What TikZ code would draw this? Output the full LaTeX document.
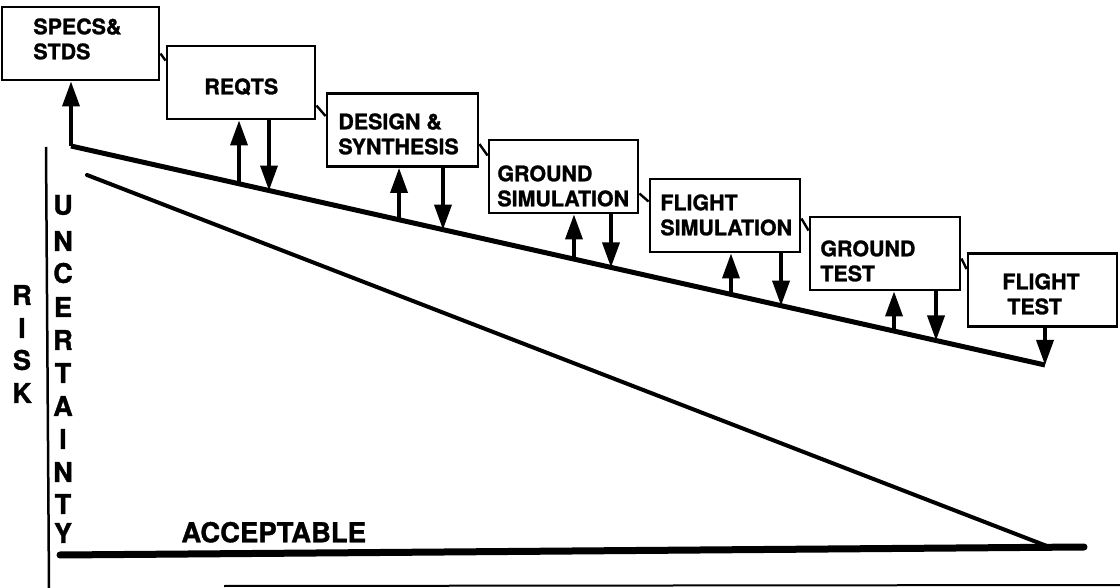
\documentclass[tikz,border=0pt]{standalone}
\usepackage{fontspec}
\setmainfont{TeX Gyre Heros}[BoldFeatures={FakeBold=1.2}]
\usetikzlibrary{arrows.meta,calc}
\begin{document}
\begin{tikzpicture}[x=0.5pt,y=-0.5pt,
  box/.style={draw,line width=1.45pt,inner sep=0pt,minimum height=36.5pt},
  lbl/.style={inner sep=0pt,align=left,anchor=north west,font=\fontsize{10.7}{12.5}\selectfont\bfseries},
  vlet/.style={inner sep=0pt,font=\fontsize{13.5}{13.5}\selectfont\bfseries},
  arr/.style={line width=1.8pt,-{Triangle[length=12.5pt,width=8.5pt]}},
  stub/.style={line width=1.2pt},
  mainline/.style={line width=2.5pt},
  lowline/.style={line width=2pt,line cap=round},
  accline/.style={line width=3.5pt,line cap=round},
  axisline/.style={line width=1.25pt},
  thinline/.style={line width=1pt}]
\useasboundingbox (0,0) rectangle (1120,588);
% boxes
\node[box,minimum width=78.5pt] (b1) at (80.5,43.5) {};
\node[box,minimum width=74pt] (b2) at (241,82.5) {};
\node[box,minimum width=75.5pt] (b3) at (402.5,130) {};
\node[box,minimum width=74.5pt] (b4) at (563.5,176.5) {};
\node[box,minimum width=75pt] (b5) at (725,215.5) {};
\node[box,minimum width=75pt] (b6) at (885,253.5) {};
\node[box,minimum width=74.5pt] (b7) at (1042.5,290) {};
% labels
\node[lbl] (t1) at (33,18) {SPECS\&\\STDS};
\node[lbl] (t2) at (204,78) {REQTS};
\node[lbl] (t3) at (338,113) {DESIGN \&\\SYNTHESIS};
\node[lbl] (t4) at (497,165) {GROUND\\SIMULATION};
\node[lbl] (t5) at (660,194) {FLIGHT\\SIMULATION};
\node[lbl] (t6) at (820,240) {GROUND\\TEST};
\node[lbl] (t7) at (1002,273) {FLIGHT\\\hspace*{2.5pt}TEST};
% stubs between boxes
\draw[stub] ([yshift=-24pt]b1.north east) -- ([yshift=-8pt]b2.north west);
\draw[stub] ([yshift=-30.5pt]b2.north east) -- ([yshift=-12pt]b3.north west);
\draw[stub] ([yshift=-26pt]b3.north east) -- ([yshift=-8.5pt]b4.north west);
\draw[stub] ([yshift=-27.5pt]b4.north east) -- ([yshift=-12pt]b5.north west);
\draw[stub] ([yshift=-20.5pt]b5.north east) -- ([yshift=-7.5pt]b6.north west);
\draw[stub] ([yshift=-21.5pt]b6.north east) -- ([yshift=-8.5pt]b7.north west);
% main (upper) line
\coordinate (L0) at (71,146);
\coordinate (L1) at (1045,365);
\draw[mainline,line join=miter] (L0) -- (L1);
\draw[arr] (L0) -- (L0 |- b1.south);
% points on the line
\coordinate (u2) at ($(L0)!0.1725!(L1)$);
\coordinate (d2) at ($(L0)!0.2033!(L1)$);
\coordinate (u3) at ($(L0)!0.3368!(L1)$);
\coordinate (d3) at ($(L0)!0.3819!(L1)$);
\coordinate (u4) at ($(L0)!0.5164!(L1)$);
\coordinate (d4) at ($(L0)!0.5544!(L1)$);
\coordinate (u5) at ($(L0)!0.6776!(L1)$);
\coordinate (d5) at ($(L0)!0.7290!(L1)$);
\coordinate (u6) at ($(L0)!0.8450!(L1)$);
\coordinate (d6) at ($(L0)!0.8881!(L1)$);
% arrows
\draw[arr] (u2) -- (u2 |- b2.south);
\draw[arr] (d2 |- b2.south) -- (d2);
\draw[arr] (u3) -- (u3 |- b3.south);
\draw[arr] (d3 |- b3.south) -- (d3);
\draw[arr] (u4) -- (u4 |- b4.south);
\draw[arr] (d4 |- b4.south) -- (d4);
\draw[arr] (u5) -- (u5 |- b5.south);
\draw[arr] (d5 |- b5.south) -- (d5);
\draw[arr] (u6) -- (u6 |- b6.south);
\draw[arr] (d6 |- b6.south) -- (d6);
\draw[arr] (L1 |- b7.south) -- (L1);
% lower diagonal and acceptable line
\coordinate (D0) at (87,175);
\coordinate (D1) at (1052,548);
\draw[lowline] (D0) -- (D1);
\coordinate (A0) at (60,555);
\coordinate (A1) at (1084,547);
\draw[accline] (A0) -- (A1);
\node[inner sep=0pt,anchor=south west,font=\fontsize{13.75}{14}\selectfont\bfseries] (acc) at (181,543) {ACCEPTABLE};
% axes
\coordinate (V0) at (46,147);
\coordinate (V1) at (49,588);
\draw[axisline] (V0) -- (V1);
\coordinate (H0) at (224,586);
\coordinate (H1) at (1120,585);
\draw[thinline] (H0) -- (H1);
% RISK
\node[vlet] (r1) at (22,295) {R};
\node[vlet] (r2) at (22,328) {I};
\node[vlet] (r3) at (22,360) {S};
\node[vlet] (r4) at (22,393) {K};
% UNCERTAINTY
\node[vlet] (c1) at (63,205) {U};
\node[vlet] (c2) at (63,241) {N};
\node[vlet] (c3) at (63,273) {C};
\node[vlet] (c4) at (63,307) {E};
\node[vlet] (c5) at (63,340) {R};
\node[vlet] (c6) at (63,373) {T};
\node[vlet] (c7) at (63,406) {A};
\node[vlet] (c8) at (63,439) {I};
\node[vlet] (c9) at (63,472) {N};
\node[vlet] (c10) at (63,504) {T};
\node[vlet] (c11) at (63,533) {Y};
\end{tikzpicture}
\end{document}
